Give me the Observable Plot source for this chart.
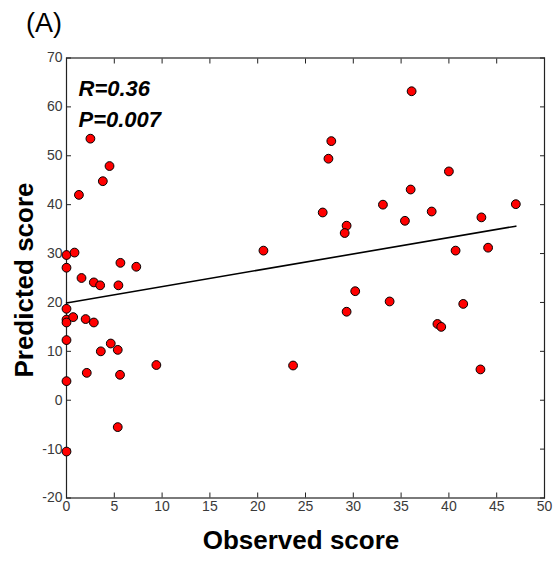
<!DOCTYPE html>
<html><head><meta charset="utf-8">
<script src="https://cdn.jsdelivr.net/npm/d3@7"></script>
<script src="https://cdn.jsdelivr.net/npm/@observablehq/plot@0.6"></script>
<style>body{margin:0;background:#fff} svg{display:block;overflow:hidden}</style>
</head><body><div id="chart"></div>
<script>
const observed = [2.5, 4.5, 3.8, 1.3, 0, 0.84, 0, 5.64, 7.3, 1.57, 2.86, 3.52, 5.43,
  0, 0, 0, 0.7, 2.0, 2.86, 0, 4.63, 5.36, 3.59, 9.4, 2.12, 5.6, 0, 5.36, 0,
  36.1, 27.7, 27.4, 40.0, 36.0, 33.1, 47.0, 26.8, 38.2, 43.4, 35.4, 29.3, 29.1,
  20.6, 40.7, 44.1, 30.2, 33.8, 29.3, 41.5, 38.8, 39.2, 23.7, 43.3];
const predicted = [53.5, 47.9, 44.8, 42.0, 29.7, 30.2, 27.1, 28.1, 27.3, 25.0, 24.1, 23.5, 23.5,
  18.7, 16.5, 15.9, 17.0, 16.6, 15.9, 12.3, 11.6, 10.3, 10.0, 7.2, 5.6, 5.2, 3.9, -5.5, -10.5,
  63.2, 53.0, 49.4, 46.8, 43.1, 40.0, 40.1, 38.4, 38.6, 37.4, 36.7, 35.7, 34.2,
  30.6, 30.6, 31.2, 22.3, 20.2, 18.1, 19.7, 15.6, 15.0, 7.1, 6.3];
const fitObserved = [0, 47];
const fitPredicted = [19.9, 35.6];
const xTicks = [0, 5, 10, 15, 20, 25, 30, 35, 40, 45, 50];
const yTicks = [-20, -10, 0, 10, 20, 30, 40, 50, 60, 70];
const statLabels = ["R=0.36", "P=0.007"];
const panelLabel = "(A)";
const nextPanelLabel = "(B)";
const xLabel = "Observed score";
const yLabel = "Predicted score";

const points = observed.map((x, i) => ({x, y: predicted[i]}));
const fit = fitObserved.map((x, i) => ({x, y: fitPredicted[i]}));
const plain = d => String(d);

const chart = Plot.plot({
  width: 555, height: 561,
  marginLeft: 66, marginRight: 11, marginTop: 57.5, marginBottom: 63.5,
  style: {fontFamily: "'Liberation Sans', Arial, sans-serif", fontSize: "14px", background: "#fff", color: "#222"},
  x: {domain: [0, 50]},
  y: {domain: [-20, 70]},
  marks: [
    Plot.axisX(xTicks, {anchor: "bottom", tickSize: -5, fill: "none", label: null}),
    Plot.axisX(xTicks, {anchor: "top", tickSize: -5, fill: "none", label: null}),
    Plot.axisY(yTicks, {anchor: "left", tickSize: -5, fill: "none", label: null}),
    Plot.axisY(yTicks, {anchor: "right", tickSize: -5, fill: "none", label: null}),
    Plot.axisX(xTicks, {anchor: "bottom", tickSize: 0, tickPadding: 3, fill: "#3a3a3a", fontSize: 14, tickFormat: plain, label: null}),
    Plot.axisY(yTicks, {anchor: "left", tickSize: 0, tickPadding: 4, fill: "#3a3a3a", fontSize: 14, tickFormat: plain, label: null}),
    Plot.frame({stroke: "#222", strokeWidth: 1.2}),
    Plot.line(fit, {x: "x", y: "y", stroke: "#000", strokeWidth: 1.6}),
    Plot.dot(points, {x: "x", y: "y", r: 4.4, fill: "#ff0000", stroke: "#000", strokeWidth: 1}),
    Plot.text([statLabels.join("\n")], {frameAnchor: "top-left", textAnchor: "start", lineAnchor: "top",
      dx: 12, dy: 16, lineHeight: 1.41, fontSize: 22, fontWeight: "bold", fontStyle: "italic", fill: "#000"})
  ]
});

const svg = d3.select(chart);
const font = "'Liberation Sans', Arial, sans-serif";
svg.append("text").attr("x", 26).attr("y", 32).attr("text-anchor", "start").attr("font-family", font)
  .attr("font-size", 27).attr("fill", "#000").text(panelLabel);
svg.append("text").attr("x", 26).attr("y", 581).attr("text-anchor", "start").attr("font-family", font)
  .attr("font-size", 27).attr("fill", "#000").text(nextPanelLabel);
svg.append("text").attr("x", 301).attr("y", 549).attr("text-anchor", "middle").attr("font-family", font)
  .attr("font-size", 26).attr("font-weight", "bold").attr("fill", "#000").text(xLabel);
svg.append("text").attr("transform", "translate(33,280) rotate(-90)").attr("text-anchor", "middle")
  .attr("font-family", font).attr("font-size", 26).attr("font-weight", "bold").attr("fill", "#000").text(yLabel);

document.getElementById("chart").appendChild(chart);
</script>
</body></html>
